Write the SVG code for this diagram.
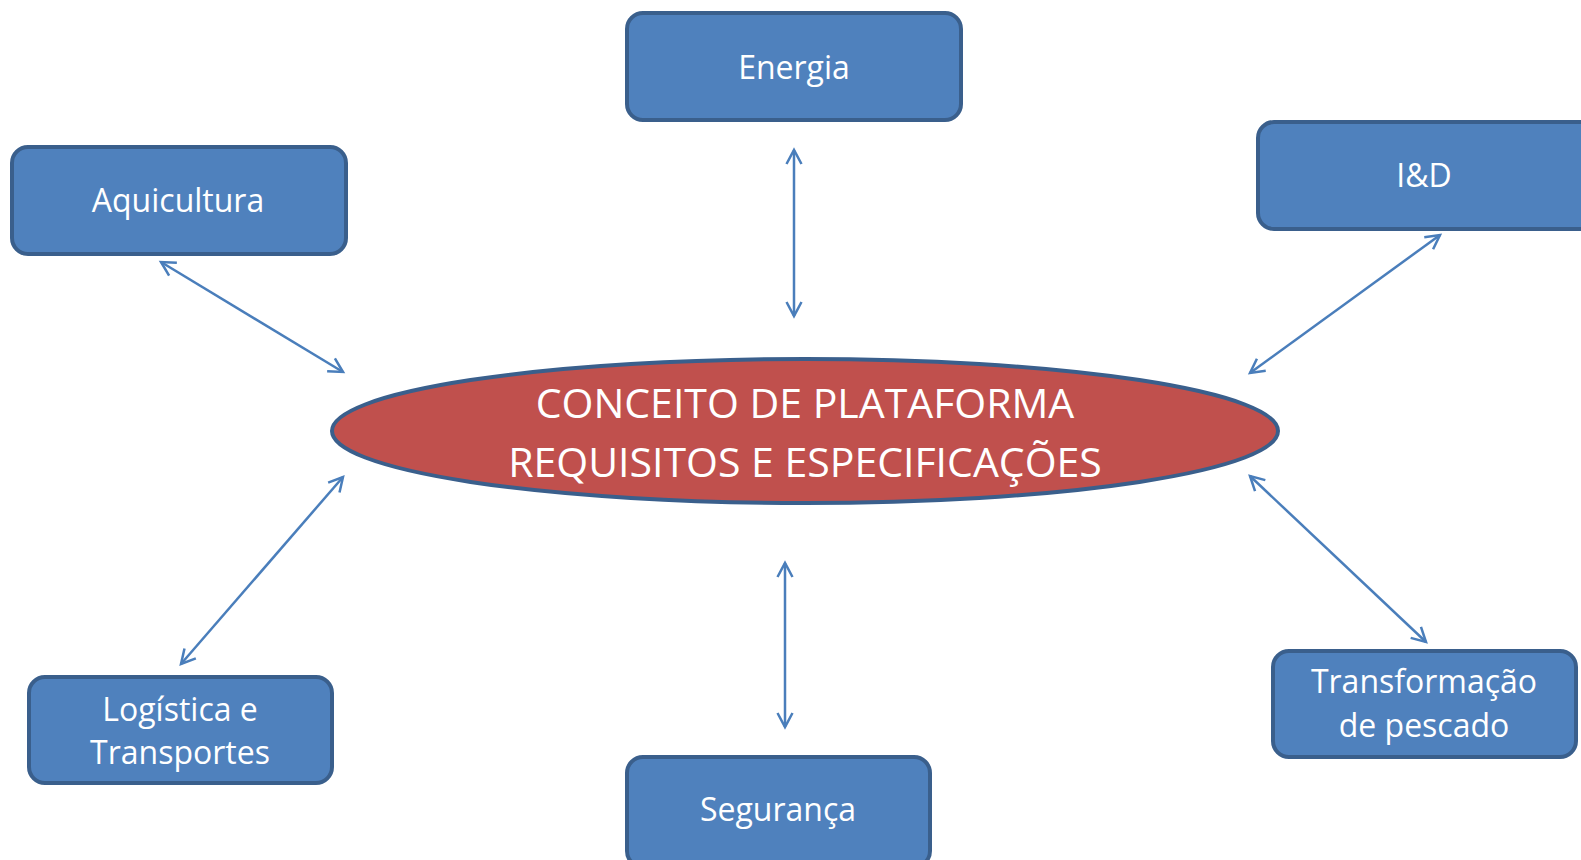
<svg xmlns="http://www.w3.org/2000/svg" width="1581" height="860" viewBox="0 0 1581 860">
  <style>
    .box { fill: #4F81BD; stroke: #3A5F8C; stroke-width: 4; }
    .lbl { font-family: "Open Sans", "Liberation Sans", sans-serif; font-size: 32px; fill: #FFFFFF; text-anchor: middle; }
    .main { font-family: "Open Sans", "Liberation Sans", sans-serif; font-size: 41px; fill: #FFFFFF; text-anchor: middle; }
    .conn { stroke: #4A7EBB; stroke-width: 2.5; fill: none; marker-start: url(#arr); marker-end: url(#arr); }
  </style>
  <defs>
    <marker id="arr" markerUnits="userSpaceOnUse" markerWidth="24" markerHeight="24" viewBox="-18 -12 24 24" refX="0" refY="0" orient="auto-start-reverse">
      <path d="M-14,-7.5 L0,0 L-14,7.5" fill="none" stroke="#4A7EBB" stroke-width="2.5" stroke-linejoin="miter"/>
    </marker>
  </defs>
  <rect width="1581" height="860" fill="#FFFFFF"/>

  <g id="connectors">
    <line class="conn" x1="794" y1="150" x2="794" y2="316"/>
    <line class="conn" x1="161" y1="262" x2="343" y2="372"/>
    <line class="conn" x1="1440" y1="235" x2="1250" y2="373"/>
    <line class="conn" x1="343" y1="477" x2="181" y2="664"/>
    <line class="conn" x1="785" y1="563" x2="785" y2="727"/>
    <line class="conn" x1="1250" y1="476" x2="1426" y2="642"/>
  </g>

  <g id="center">
    <ellipse cx="805" cy="431" rx="473" ry="72" fill="#C0504D" stroke="#3A5F8C" stroke-width="4"/>
    <text class="main" x="805" y="418">CONCEITO DE PLATAFORMA</text>
    <text class="main" x="805" y="477">REQUISITOS E ESPECIFICAÇÕES</text>
  </g>

  <g id="energia">
    <rect class="box" x="627" y="13" width="334" height="107" rx="16"/>
    <text class="lbl" x="794" y="79">Energia</text>
  </g>

  <g id="aquicultura">
    <rect class="box" x="12" y="147" width="334" height="107" rx="16"/>
    <text class="lbl" x="178" y="212">Aquicultura</text>
  </g>

  <g id="id">
    <rect class="box" x="1258" y="122" width="340" height="107" rx="16"/>
    <text class="lbl" x="1424" y="187">I&amp;D</text>
  </g>

  <g id="logistica">
    <rect class="box" x="29" y="677" width="303" height="106" rx="16"/>
    <text class="lbl" x="180" y="721">Logística e</text>
    <text class="lbl" x="180" y="764">Transportes</text>
  </g>

  <g id="seguranca">
    <rect class="box" x="627" y="757" width="303" height="110" rx="16"/>
    <text class="lbl" x="778" y="821">Segurança</text>
  </g>

  <g id="transformacao">
    <rect class="box" x="1273" y="651" width="303" height="106" rx="16"/>
    <text class="lbl" x="1424" y="693">Transformação</text>
    <text class="lbl" x="1424" y="737">de pescado</text>
  </g>
</svg>
